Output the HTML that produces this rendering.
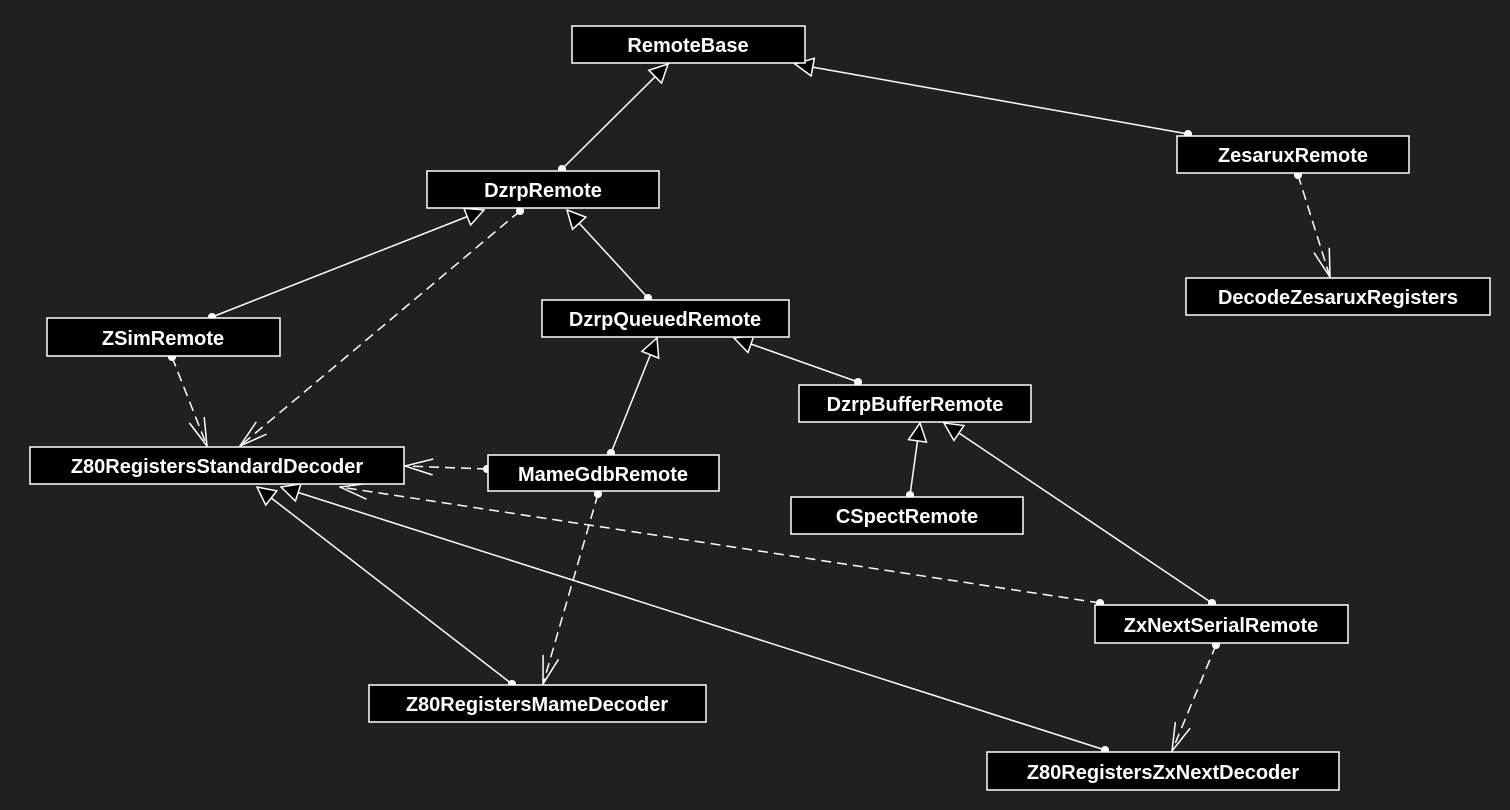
<!DOCTYPE html>
<html><head><meta charset="utf-8"><style>
html,body{margin:0;padding:0;background:#202020;}
svg{display:block;}
text{font-family:"Liberation Sans",sans-serif;font-weight:bold;font-size:20px;fill:#fff;text-anchor:middle;}
</style></head><body>
<svg width="1510" height="810" viewBox="0 0 1510 810" xmlns="http://www.w3.org/2000/svg">
<defs>
<marker id="tri" viewBox="0 0 20 20" refX="19" refY="10" markerWidth="20" markerHeight="20" markerUnits="userSpaceOnUse" orient="auto">
<path d="M1,1 L19,10 L1,19 Z" fill="#000" stroke="#fff" stroke-width="1.5"/>
</marker>
<marker id="open" viewBox="0 0 30 20" refX="29" refY="10" markerWidth="30" markerHeight="20" markerUnits="userSpaceOnUse" orient="auto">
<path d="M1,2 L29,10 L1,18" fill="none" stroke="#fff" stroke-width="1.5"/>
</marker>
<marker id="dot" viewBox="0 0 10 10" refX="5" refY="5" markerWidth="9" markerHeight="9" markerUnits="userSpaceOnUse">
<circle cx="5" cy="5" r="4.5" fill="#fff"/>
</marker>
</defs>
<g stroke="#fff" stroke-width="1.5" fill="none">
<line x1="562" y1="169" x2="668" y2="64" marker-start="url(#dot)" marker-end="url(#tri)"/>
<line x1="1188" y1="134" x2="795" y2="64" marker-start="url(#dot)" marker-end="url(#tri)"/>
<line x1="212" y1="317" x2="484" y2="210" marker-start="url(#dot)" marker-end="url(#tri)"/>
<line x1="648" y1="298" x2="567" y2="210" marker-start="url(#dot)" marker-end="url(#tri)"/>
<line x1="858" y1="382" x2="734" y2="338" marker-start="url(#dot)" marker-end="url(#tri)"/>
<line x1="611" y1="453" x2="657" y2="338" marker-start="url(#dot)" marker-end="url(#tri)"/>
<line x1="910" y1="495" x2="920" y2="423" marker-start="url(#dot)" marker-end="url(#tri)"/>
<line x1="1212" y1="603" x2="944" y2="423" marker-start="url(#dot)" marker-end="url(#tri)"/>
<line x1="512" y1="684" x2="257" y2="487" marker-start="url(#dot)" marker-end="url(#tri)"/>
<line x1="1105" y1="750" x2="281" y2="487" marker-start="url(#dot)" marker-end="url(#tri)"/>
<g stroke-dasharray="10,6">
<line x1="1298" y1="175" x2="1330" y2="277" marker-start="url(#dot)" marker-end="url(#open)"/>
<line x1="520" y1="211" x2="240" y2="446" marker-start="url(#dot)" marker-end="url(#open)"/>
<line x1="172" y1="357" x2="207" y2="446" marker-start="url(#dot)" marker-end="url(#open)"/>
<line x1="487" y1="469" x2="405" y2="466" marker-start="url(#dot)" marker-end="url(#open)"/>
<line x1="1100" y1="603" x2="340" y2="487" marker-start="url(#dot)" marker-end="url(#open)"/>
<line x1="598" y1="494" x2="543" y2="684" marker-start="url(#dot)" marker-end="url(#open)"/>
<line x1="1216" y1="645" x2="1172" y2="751" marker-start="url(#dot)" marker-end="url(#open)"/>
</g>
</g>
<g fill="#000" stroke="#fff" stroke-width="1.5">
<rect x="572" y="26" width="233" height="37"/>
<rect x="427" y="171" width="232" height="37"/>
<rect x="1177" y="136" width="232" height="37"/>
<rect x="1186" y="278" width="304" height="37"/>
<rect x="47" y="318" width="233" height="38"/>
<rect x="542" y="300" width="247" height="37"/>
<rect x="799" y="385" width="232" height="37"/>
<rect x="30" y="447" width="374" height="37"/>
<rect x="488" y="455" width="231" height="36"/>
<rect x="791" y="497" width="232" height="37"/>
<rect x="1095" y="605" width="253" height="38"/>
<rect x="369" y="685" width="337" height="37"/>
<rect x="987" y="752" width="352" height="38"/>
</g>
<text x="688" y="52">RemoteBase</text>
<text x="543" y="197">DzrpRemote</text>
<text x="1293" y="162">ZesaruxRemote</text>
<text x="1338" y="304">DecodeZesaruxRegisters</text>
<text x="163" y="345">ZSimRemote</text>
<text x="665" y="326">DzrpQueuedRemote</text>
<text x="915" y="411">DzrpBufferRemote</text>
<text x="217" y="473">Z80RegistersStandardDecoder</text>
<text x="603" y="481">MameGdbRemote</text>
<text x="907" y="523">CSpectRemote</text>
<text x="1221" y="632">ZxNextSerialRemote</text>
<text x="537" y="711">Z80RegistersMameDecoder</text>
<text x="1163" y="779">Z80RegistersZxNextDecoder</text>
</svg>
</body></html>
